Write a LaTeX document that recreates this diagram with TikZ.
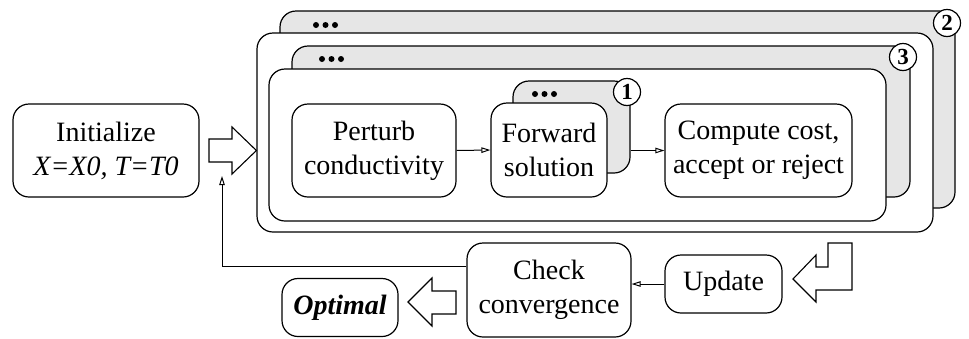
\documentclass[tikz,border=0pt]{standalone}
\usepackage{fontspec}
\setmainfont{Liberation Serif}
\usetikzlibrary{arrows.meta}

\definecolor{tabgray}{RGB}{230,230,230}

\tikzset{
  box/.style={draw, line width=1.2pt, rounded corners=16pt, fill=white,
    inner sep=0pt, align=center},
  tab/.style={box, fill=tabgray},
  label/.style={font=\fontsize{28}{34}\selectfont},
  num/.style={draw, circle, line width=1.2pt, fill=white, inner sep=0pt,
    minimum size=27pt, font=\fontsize{23}{23}\selectfont\bfseries},
  flow/.style={line width=1pt, -{Triangle[open,length=9pt,width=5.5pt]}},
  bigarrow/.style={draw, line width=1.1pt, fill=white},
  dot/.style={fill=black, circle, inner sep=0pt, minimum size=6pt},
}

\newcommand{\dotrow}[2]{%
  \node[dot] at (#1,#2) {};
  \node[dot] at (#1+9.5,#2) {};
  \node[dot] at (#1+19,#2) {};
}

\begin{document}
\begin{tikzpicture}[x=1pt, y=-1pt]
\useasboundingbox (0,0) rectangle (969,338);

% outer repetition (2)
\node[tab, minimum width=675pt, minimum height=197pt] (g2) at (617.5,109.5) {};
\dotrow{316}{25}
\node[num] (n2) at (947,23) {2};
\node[box, minimum width=676pt, minimum height=199pt] (w2) at (595,132.5) {};

% middle repetition (3)
\node[tab, minimum width=618pt, minimum height=151pt] (g3) at (601,121.5) {};
\dotrow{322}{59}
\node[num] (n3) at (903,57) {3};
\node[box, minimum width=617pt, minimum height=152pt] (w3) at (577.5,145) {};

% inner repetition (1)
\node[tab, minimum width=117pt, minimum height=92pt] (g1) at (571.5,127) {};
\dotrow{535}{94}
\node[num] (n1) at (627,92) {1};

% steps
\node[box, label, minimum width=186pt, minimum height=93pt] (init) at (106,150.5)
  {Initialize\\\textit{X=X0, T=T0}};
\node[box, label, minimum width=164pt, minimum height=93pt] (perturb) at (374,150.5)
  {Perturb\\conductivity};
\node[box, label, minimum width=116pt, minimum height=94pt] (forward) at (549,150)
  {Forward\\solution};
\node[box, label, minimum width=187pt, minimum height=93pt] (compute) at (758.5,150.5)
  {Compute cost,\\accept or reject};
\node[box, label, minimum width=164pt, minimum height=94pt] (check) at (549,290)
  {Check\\convergence};
\node[box, label, minimum width=116pt, minimum height=58pt] (optimal) at (340,307.5)
  {\textbf{\textit{Optimal}}};
\node[box, label, minimum width=117pt, minimum height=58pt] (update) at (723.5,284)
  {Update};

% thin connectors
\draw[flow] (perturb.east) -- (forward.west);
\draw[flow] (g1.east |- compute.west) -- (compute.west);
\draw[flow] (update.west) -- (update.west -| check.east);
\coordinate (loopcorner) at (222,266);
\draw[flow] (check.west |- loopcorner) -- (loopcorner) -- (222,176);

% hollow block arrows
\draw[bigarrow] (209,139) -- (232,139) -- (232,127) -- (w2.west |- init.east)
  -- (232,174) -- (232,162) -- (209,162) -- cycle;
\draw[bigarrow] (456,291) -- (432,291) -- (432,278) -- (408,302)
  -- (432,326) -- (432,314) -- (456,314) -- cycle;
\draw[bigarrow] (793,279) -- (816,255) -- (816,267) -- (828,267) -- (828,243)
  -- (852,243) -- (852,290) -- (816,290) -- (816,302) -- cycle;
\end{tikzpicture}
\end{document}
